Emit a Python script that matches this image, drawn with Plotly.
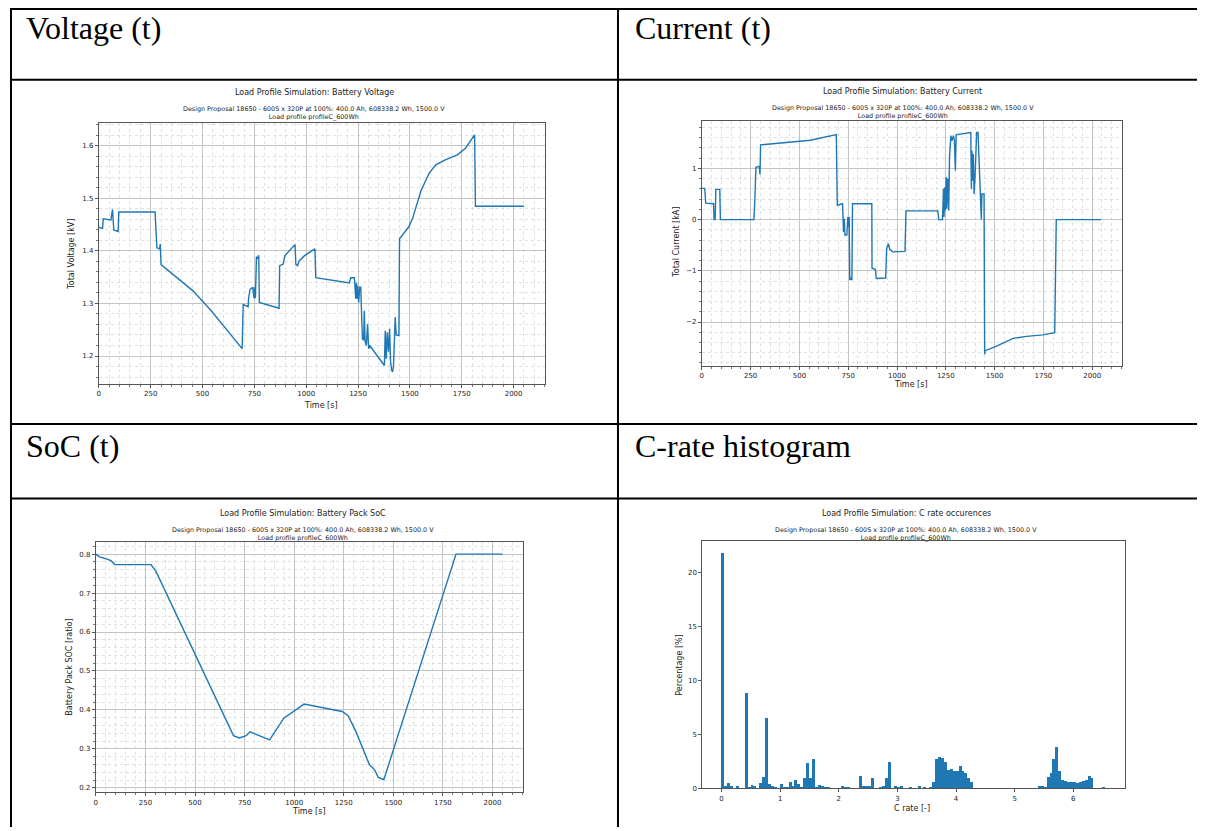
import numpy as np
import plotly.graph_objects as go

# the page body has an 8 px margin, so the figure is 8 px smaller each way
OFF = 8
W, H = 1205 - OFF, 831 - OFF
BLUE = "#1f77b4"

voltage_t = [0, 18, 21, 58, 66, 72, 93, 96, 271, 274, 280, 293, 296, 300, 454, 542, 615, 691,
             696, 720, 722, 729, 742, 748, 751, 755, 760, 766, 771, 774, 869, 872, 889, 897,
             946, 950, 958, 966, 992, 1042, 1046, 1208, 1215, 1232, 1239, 1242, 1245, 1248,
             1253, 1258, 1263, 1266, 1271, 1277, 1280, 1284, 1290, 1296, 1301, 1306, 1377,
             1381, 1386, 1391, 1397, 1402, 1407, 1412, 1417, 1421, 1426, 1429, 1434, 1447,
             1450, 1473, 1495, 1513, 1553, 1593, 1625, 1673, 1729, 1769, 1812, 1816, 2050]
voltage_kv = [1.445, 1.443, 1.461, 1.459, 1.479, 1.440, 1.437, 1.474, 1.474, 1.446, 1.406,
              1.404, 1.413, 1.374, 1.324, 1.286, 1.250, 1.214, 1.298, 1.294, 1.310, 1.327,
              1.331, 1.310, 1.331, 1.310, 1.389, 1.385, 1.392, 1.302, 1.291, 1.372, 1.375,
              1.391, 1.412, 1.374, 1.372, 1.381, 1.391, 1.404, 1.349, 1.339, 1.349, 1.349,
              1.309, 1.340, 1.309, 1.334, 1.302, 1.331, 1.331, 1.271, 1.233, 1.230, 1.286,
              1.228, 1.220, 1.261, 1.214, 1.220, 1.182, 1.248, 1.195, 1.245, 1.208, 1.252,
              1.189, 1.173, 1.170, 1.182, 1.245, 1.274, 1.240, 1.239, 1.423, 1.435, 1.446,
              1.462, 1.514, 1.548, 1.564, 1.574, 1.583, 1.596, 1.621, 1.485, 1.485]

current_t = [0, 15, 20, 60, 63, 68, 72, 92, 95, 267, 272, 277, 294, 298, 301, 556, 689, 694,
             721, 726, 730, 733, 743, 748, 752, 755, 758, 764, 769, 772, 871, 872, 889, 894,
             942, 947, 956, 963, 978, 1041, 1046, 1209, 1214, 1233, 1238, 1241, 1245, 1248,
             1252, 1255, 1260, 1265, 1269, 1272, 1276, 1281, 1284, 1289, 1294, 1299, 1303,
             1306, 1378, 1381, 1384, 1388, 1391, 1395, 1400, 1405, 1408, 1415, 1420, 1425,
             1429, 1432, 1435, 1446, 1449, 1452, 1510, 1595, 1663, 1748, 1808, 1816, 2046]
current_ka = [0.61, 0.61, 0.32, 0.31, 0.0, 0.0, 0.59, 0.59, 0.0, 0.0, 0.42, 1.02, 1.04, 0.88,
              1.46, 1.55, 1.66, 0.28, 0.31, -0.24, 0.02, -0.30, -0.30, 0.05, -0.14, 0.05,
              -1.18, -1.15, -1.18, 0.31, 0.31, -0.95, -0.97, -1.15, -1.14, -0.56, -0.47,
              -0.58, -0.63, -0.62, 0.17, 0.17, 0.0, 0.0, 0.60, 0.05, 0.63, 0.18, 0.83, 0.21,
              0.80, 0.18, 1.22, 1.61, 1.64, 1.54, 1.61, 1.64, 1.54, 0.96, 1.64, 1.66, 1.70,
              0.60, 1.35, 0.76, 1.28, 0.50, 0.83, 1.35, 1.70, 1.70, 1.22, 0.50, 0.31, 0.0,
              0.50, 0.50, -2.63, -2.56, -2.47, -2.32, -2.28, -2.25, -2.21, 0.0, 0.0]

soc_t = [0, 18, 57, 76, 96, 278, 302, 694, 723, 758, 778, 876, 948, 1050, 1242, 1272, 1311,
         1379, 1405, 1424, 1452, 1816, 2051]
soc_ratio = [0.800, 0.793, 0.787, 0.783, 0.773, 0.773, 0.757, 0.334, 0.328, 0.334, 0.344,
             0.323, 0.379, 0.415, 0.396, 0.385, 0.345, 0.260, 0.247, 0.227, 0.221, 0.800,
             0.800]

# C-rate histogram, bins of 0.05 starting at 0
c_rate_bin_width = 0.05
c_rate_pct = [21.8, 0.2, 0.43, 0.15, 0.0, 0.15, 0.0, 0.0, 8.8, 0.05,
              0.25, 0.1, 0.0, 0.4, 0.96, 6.5, 0.37, 0.1, 0.05, 0.0,
              0.35, 0.05, 0.05, 0.55, 0.1, 0.75, 0.35, 0.05, 0.95, 2.3,
              0.93, 2.63, 0.05, 0.22, 0.1, 0.05, 0.05, 0.0, 0.0, 0.0,
              0.0, 0.15, 0.05, 0.05, 0.0, 0.0, 0.0, 1.1, 0.1, 0.1,
              0.1, 0.9, 0.0, 0.0, 0.05, 0.1, 0.93, 2.35, 0.0, 0.1,
              0.05, 0.1, 0.0, 0.0, 0.05, 0.0, 0.0, 0.1, 0.0, 0.05,
              0.0, 0.05, 0.53, 2.7, 2.88, 2.72, 2.38, 1.64, 1.7, 1.55,
              1.6, 2.0, 1.55, 1.33, 0.9, 0.5, 0.0, 0.0, 0.0, 0.0,
              0.0, 0.0, 0.0, 0.0, 0.0, 0.0, 0.0, 0.0, 0.0, 0.0,
              0.0, 0.0, 0.0, 0.0, 0.0, 0.0, 0.0, 0.0, 0.1, 0.12,
              0.05, 1.0, 1.4, 2.63, 3.75, 1.55, 0.77, 0.62, 0.53, 0.5,
              0.53, 0.45, 0.56, 0.62, 0.71, 1.05, 0.93, 0.0, 0.0, 0.0,
              0.06]
c_rate_centers = np.arange(len(c_rate_pct)) * c_rate_bin_width + c_rate_bin_width / 2

headers = ["Voltage (t)", "Current (t)", "SoC (t)", "C-rate histogram"]
titles = ["Load Profile Simulation: Battery Voltage", "Load Profile Simulation: Battery Current",
          "Load Profile Simulation: Battery Pack SoC", "Load Profile Simulation: C rate occurences"]
subtitle = ("Design Proposal 18650 - 600S x 320P at 100%: 400.0 Ah, 608338.2 Wh, 1500.0 V"
            "<br>Load profile profileC_600Wh")


def px(x):
    # page pixel -> paper x
    return (x - OFF) / W


def py(y):
    # page pixel -> paper y
    return 1 - (y - OFF) / H


fig = go.Figure()
fig.add_trace(go.Scatter(x=voltage_t, y=voltage_kv, mode="lines", line=dict(color=BLUE, width=1.4),
                         xaxis="x", yaxis="y"))
fig.add_trace(go.Scatter(x=current_t, y=current_ka, mode="lines", line=dict(color=BLUE, width=1.4),
                         xaxis="x2", yaxis="y2"))
fig.add_trace(go.Scatter(x=soc_t, y=soc_ratio, mode="lines", line=dict(color=BLUE, width=1.4),
                         xaxis="x3", yaxis="y3"))
fig.add_trace(go.Bar(x=c_rate_centers, y=c_rate_pct, width=c_rate_bin_width,
                     marker=dict(color=BLUE, line=dict(width=0)), xaxis="x4", yaxis="y4"))

tickfont = dict(family="DejaVu Sans", size=7, color="#222")
frame = dict(showline=True, mirror=True, linecolor="#555", linewidth=1, zeroline=False,
             ticks="outside", ticklen=3, tickcolor="#555", tickfont=tickfont)
grid = dict(showgrid=True, gridcolor="#c4c4c4", gridwidth=1)


def minor(step):
    return dict(dtick=step, ticks="outside", ticklen=2, tickcolor="#777", showgrid=True,
                gridcolor="#e0e0e0", griddash="dot", gridwidth=1)


# axes boxes in page pixels: left, right, top, bottom
boxes = [(97, 544, 123.3, 385.7), (701, 1121.7, 121.3, 367.3),
         (94, 521.5, 545, 796), (701.5, 1124.6, 544, 792)]

layout_axes = {}
for i, (l, r, t, b) in enumerate(boxes):
    sfx = "" if i == 0 else str(i + 1)
    layout_axes["xaxis" + sfx] = dict(domain=[px(l), px(r)], anchor="y" + sfx, **frame)
    layout_axes["yaxis" + sfx] = dict(domain=[py(b), py(t)], anchor="x" + sfx, **frame)

for sfx in ["", "2", "3"]:
    layout_axes["xaxis" + sfx].update(range=[0, 2152], tick0=0, dtick=250, minor=minor(50), **grid)
layout_axes["yaxis"].update(range=[1.147, 1.644], tick0=1.2, dtick=0.1, minor=minor(0.02), **grid)
layout_axes["yaxis2"].update(range=[-2.85, 1.93], tick0=0, dtick=1, minor=minor(0.2), **grid)
layout_axes["yaxis3"].update(range=[0.189, 0.830], tick0=0.2, dtick=0.1, minor=minor(0.02), **grid)
layout_axes["xaxis4"].update(range=[-0.3275, 6.8775], tick0=0, dtick=1, showgrid=False)
layout_axes["yaxis4"].update(range=[0, 22.9], tick0=0, dtick=5, showgrid=False)

annotations = []


def note(text, x, y, size, family="DejaVu Sans", color="#222", angle=0, xanchor="center"):
    annotations.append(dict(text=text, x=px(x), y=py(y), xref="paper", yref="paper",
                            xanchor=xanchor, yanchor="middle", showarrow=False,
                            textangle=angle, font=dict(family=family, size=size, color=color)))


# table headers
for text, (x, y) in zip(headers, [(22, 28), (632, 28), (22, 448), (632, 448)]):
    note(text, x, y, 32, family="Liberation Serif", color="black", xanchor="left")

# chart texts: title centre x, title y, subtitle y, xlabel (x, y), ylabel (x, y), ylabel text
chart_text = [
    (313, 93, 114, (320, 407), (70, 255), "Total Voltage [kV]"),
    (902, 92, 113, (911, 386), (676, 243), "Total Current [kA]"),
    (301, 516, 537, (307, 815), (68, 670), "Battery Pack SOC [ratio]"),
    (906, 516, 537, (912, 812), (679, 668), "Percentage [%]"),
]
xlabels = ["Time [s]", "Time [s]", "Time [s]", "C rate [-]"]
for title, xlab, (cx, ty, sy, (xx, xy), (yx, yy), ylab) in zip(titles, xlabels, chart_text):
    note(title, cx, ty, 8)
    note(subtitle, cx, sy, 6.4)
    note(xlab, xx, xy, 8)
    note(ylab, yx, yy, 8, angle=-90)

# table lines (the top and left borders sit at the figure's edge)
shapes = []
line = dict(color="black", width=2)
for y in [OFF + 1, 80, 426, 501]:
    shapes.append(dict(type="line", xref="paper", yref="paper", x0=px(OFF + 1), x1=1,
                       y0=py(y), y1=py(y), line=line))
for x in [OFF + 1, 617]:
    shapes.append(dict(type="line", xref="paper", yref="paper", x0=px(x), x1=px(x),
                       y0=1, y1=0, line=line))

fig.update_layout(width=W, height=H, autosize=False, margin=dict(l=0, r=0, t=0, b=0),
                  paper_bgcolor="white", plot_bgcolor="white", showlegend=False,
                  bargap=0, annotations=annotations, shapes=shapes, **layout_axes)

fig.write_html("out.html")
